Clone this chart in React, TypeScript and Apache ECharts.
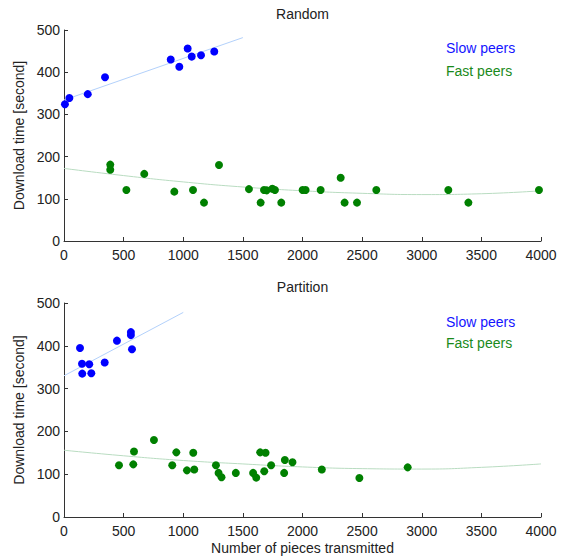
import React, { useEffect, useRef } from "react";
import * as echarts from "echarts";

// ---- Data ----
const xTicks = [0, 500, 1000, 1500, 2000, 2500, 3000, 3500, 4000];
const yTicks = [0, 100, 200, 300, 400, 500];

const randomSlow: [number, number][] = [
  [8, 324], [45, 339], [199, 348], [344, 388], [895, 430], [967, 413],
  [1037, 456], [1071, 437], [1149, 440], [1260, 449],
];
const randomFast: [number, number][] = [
  [388, 181], [388, 169], [523, 121], [673, 159], [925, 117], [1082, 121],
  [1174, 91], [1300, 180], [1551, 123], [1649, 91], [1677, 121], [1700, 120],
  [1747, 124], [1769, 121], [1822, 91], [2001, 121], [2026, 121], [2152, 121],
  [2320, 150], [2353, 91], [2457, 91], [2619, 121], [3223, 121], [3391, 91],
  [3983, 121],
];
const partitionSlow: [number, number][] = [
  [134, 395], [151, 358], [153, 335], [212, 357], [229, 336], [341, 361],
  [444, 412], [561, 432], [561, 425], [570, 392],
];
const partitionFast: [number, number][] = [
  [461, 121], [581, 123], [587, 153], [754, 180], [908, 121], [942, 151],
  [1031, 109], [1084, 150], [1092, 111], [1274, 121], [1296, 103], [1321, 93],
  [1441, 103], [1586, 103], [1612, 92], [1645, 151], [1679, 107], [1690, 150],
  [1737, 121], [1846, 103], [1852, 133], [1916, 128], [2162, 111], [2477, 91],
  [2882, 116],
];

// fitted trend lines
const randomSlowFit: [number, number][] = [[0, 334], [1500, 482]];
const partitionSlowFit: [number, number][] = [[0, 330], [1000, 478]];
const fitX = [0, 500, 1000, 1500, 2000, 2500, 3000, 3500, 4000];
const randomFastFitY = [172, 155, 140, 128, 119, 113, 110, 112, 119];
const partitionFastFitY = [156, 143, 132, 124, 117, 113, 112, 116, 124];

const titles = ["Random", "Partition"];
const legendNames = ["Slow peers", "Fast peers"];

const FONT = "Liberation Sans, Arial, Helvetica, sans-serif";
const TEXT = "#222";
const BLUE = "#0000ff";
const GREEN = "#008000";
const BLUE_FIT = "#b3d1fb";
const GREEN_FIT = "#b9dcc1";

export default function App() {
  const ref = useRef<HTMLDivElement>(null);

  useEffect(() => {
    if (!ref.current) return;
    const chart = echarts.init(ref.current, undefined, { renderer: "svg" });

    const grids = [
      { left: 64, top: 30, width: 477, height: 211 },
      { left: 64, top: 303, width: 477, height: 214 },
    ];

    const xAxis = grids.map((_, i) => ({
      type: "value",
      gridIndex: i,
      min: xTicks[0],
      max: xTicks[xTicks.length - 1],
      interval: 500,
      name: i === 1 ? "Number of pieces transmitted" : "",
      nameLocation: "middle",
      nameGap: 24,
      nameTextStyle: { fontSize: 14, color: TEXT, fontFamily: FONT },
      axisLine: { show: true, lineStyle: { color: "#333", width: 1 } },
      axisTick: { show: true, inside: true, length: 4, lineStyle: { color: "#333" } },
      axisLabel: {
        fontSize: 14,
        color: TEXT,
        fontFamily: FONT,
        margin: 7,
        formatter: (v: number) => String(v),
      },
      splitLine: { show: false },
    }));

    const yAxis = grids.map((_, i) => ({
      type: "value",
      gridIndex: i,
      min: yTicks[0],
      max: yTicks[yTicks.length - 1],
      interval: 100,
      name: "Download time [second]",
      nameLocation: "middle",
      nameGap: 36,
      nameRotate: 90,
      nameTextStyle: { fontSize: 14, color: TEXT, fontFamily: FONT },
      axisLine: { show: true, lineStyle: { color: "#333", width: 1 } },
      axisTick: { show: true, inside: true, length: 4, lineStyle: { color: "#333" } },
      axisLabel: {
        fontSize: 14,
        color: TEXT,
        fontFamily: FONT,
        margin: 4,
        formatter: (v: number) => String(v),
      },
      splitLine: { show: false },
    }));

    const fitLine = (data: [number, number][], color: string, idx: number, smooth: boolean) => ({
      type: "line",
      xAxisIndex: idx,
      yAxisIndex: idx,
      data,
      smooth,
      showSymbol: false,
      symbol: "none",
      lineStyle: { color, width: 1 },
      z: 1,
      silent: true,
    });
    const dots = (data: [number, number][], color: string, idx: number) => ({
      type: "scatter",
      xAxisIndex: idx,
      yAxisIndex: idx,
      data,
      symbol: "circle",
      symbolSize: 8,
      itemStyle: { color, opacity: 1 },
      z: 3,
    });

    const zip = (xs: number[], ys: number[]) => xs.map((x, k) => [x, ys[k]] as [number, number]);

    const graphic: any[] = [];
    titles.forEach((t, i) => {
      graphic.push({
        type: "text",
        x: 302.5,
        y: i === 0 ? 14 : 287,
        style: {
          text: t,
          fontSize: 14,
          fontFamily: FONT,
          fill: TEXT,
          textAlign: "center",
          textVerticalAlign: "middle",
        },
      });
    });
    const legendY = [
      [48, 71],
      [322, 343],
    ];
    legendY.forEach((ys, i) => {
      legendNames.forEach((n, k) => {
        graphic.push({
          type: "text",
          x: 446,
          y: ys[k],
          style: {
            text: n,
            fontSize: 14,
            fontFamily: FONT,
            fill: k === 0 ? "#1414ff" : "#1a8a1a",
            textAlign: "left",
            textVerticalAlign: "middle",
          },
        });
      });
    });

    chart.setOption({
      animation: false,
      backgroundColor: "#ffffff",
      textStyle: { fontFamily: FONT },
      grid: grids,
      xAxis,
      yAxis,
      graphic,
      series: [
        fitLine(randomSlowFit, BLUE_FIT, 0, false),
        fitLine(zip(fitX, randomFastFitY), GREEN_FIT, 0, true),
        dots(randomSlow, BLUE, 0),
        dots(randomFast, GREEN, 0),
        fitLine(partitionSlowFit, BLUE_FIT, 1, false),
        fitLine(zip(fitX, partitionFastFitY), GREEN_FIT, 1, true),
        dots(partitionSlow, BLUE, 1),
        dots(partitionFast, GREEN, 1),
      ],
    });

    return () => chart.dispose();
  }, []);

  return (
    <div
      ref={ref}
      style={{ position: "fixed", left: 0, top: 0, width: 563, height: 557, background: "#fff" }}
    />
  );
}
